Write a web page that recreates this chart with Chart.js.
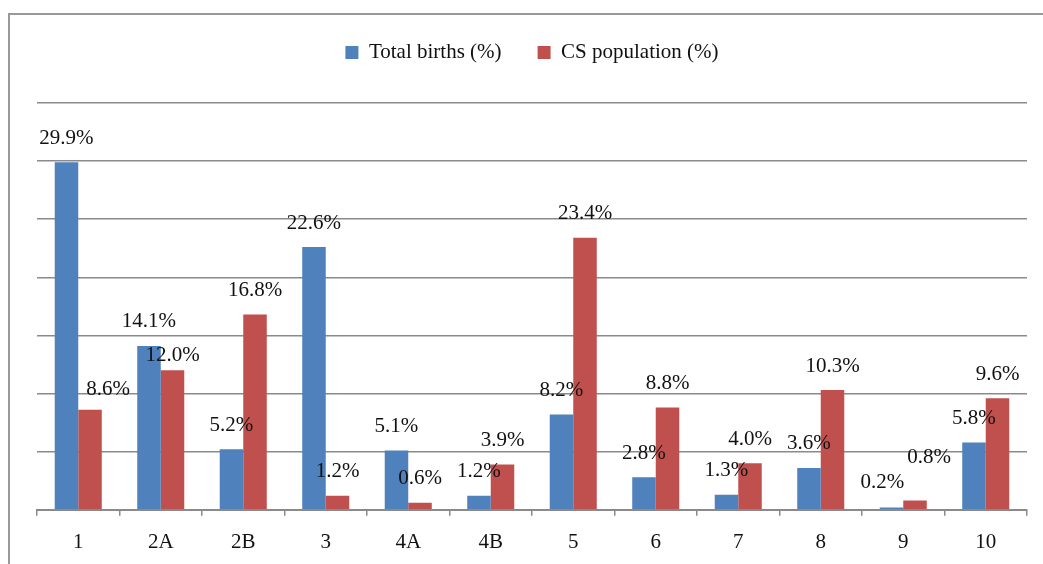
<!DOCTYPE html>
<html><head><meta charset="utf-8">
<script src="https://cdn.jsdelivr.net/npm/chart.js@4/dist/chart.umd.min.js"></script>
<style>html,body{margin:0;padding:0;background:#fff;} canvas{display:block}</style>
</head><body>
<canvas id="c" width="1043" height="564"></canvas>
<script>
const categories = ['1','2A','2B','3','4A','4B','5','6','7','8','9','10'];
const totalBirths = [29.9,14.1,5.2,22.6,5.1,1.2,8.2,2.8,1.3,3.6,0.2,5.8];
const csPopulation = [8.6,12.0,16.8,1.2,0.6,3.9,23.4,8.8,4.0,10.3,0.8,9.6];
const seriesNames = ['Total births (%)','CS population (%)'];
const yMax = 35, yStep = 5;

const FONT = "'Liberation Serif', 'Times New Roman', serif";
const GRID = '#8a8a8a';

// hand-moved labels in the original (dataset-index : [dx, dy])
const labelNudges = { '1-0': [18, 4], '1-1': [0, 9], '0-10': [-9, -1], '1-10': [14, -19] };

const frame = {
  id: 'frame',
  beforeDraw(chart) {
    const ctx = chart.ctx;
    ctx.save();
    ctx.fillStyle = '#fff';
    ctx.fillRect(0, 0, chart.width, chart.height);
    ctx.strokeStyle = '#999';
    ctx.lineWidth = 2;
    ctx.strokeRect(9, 14, 1200, 700);
    ctx.restore();
  }
};

const legendSpace = {
  id: 'legendSpace',
  beforeLayout(chart) {
    const lg = chart.legend;
    if (lg && !lg._patched) {
      const fit = lg.fit;
      lg.fit = function() { fit.call(this); this.height += 30; };
      lg._patched = true;
    }
  }
};

const valueLabels = {
  id: 'valueLabels',
  afterDatasetsDraw(chart) {
    const ctx = chart.ctx;
    ctx.save();
    ctx.font = "21px " + FONT;
    ctx.fillStyle = '#111';
    ctx.textAlign = 'center';
    ctx.textBaseline = 'middle';
    chart.data.datasets.forEach((ds, di) => {
      const meta = chart.getDatasetMeta(di);
      meta.data.forEach((bar, i) => {
        const n = labelNudges[di + '-' + i] || [0, 0];
        ctx.fillText(ds.data[i].toFixed(1) + '%', bar.x + n[0], bar.y - 24 + n[1]);
      });
    });
    ctx.restore();
  }
};

new Chart(document.getElementById('c'), {
  type: 'bar',
  data: {
    labels: categories,
    datasets: [
      { label: seriesNames[0], data: totalBirths, backgroundColor: '#4F81BD' },
      { label: seriesNames[1], data: csPopulation, backgroundColor: '#C0504D' }
    ]
  },
  options: {
    responsive: false,
    animation: false,
    devicePixelRatio: 1,
    layout: { padding: { left: 37, right: 16, top: 6, bottom: 0 } },
    datasets: { bar: { barPercentage: 1, categoryPercentage: 0.57 } },
    plugins: {
      legend: {
        position: 'top',
        labels: {
          font: { family: FONT, size: 21 },
          color: '#111',
          boxWidth: 13, boxHeight: 13,
          padding: 36
        }
      },
      tooltip: { enabled: false }
    },
    scales: {
      x: {
        offset: true,
        afterFit(scale) { scale.height -= 5; },
        grid: { offset: true, drawOnChartArea: false, drawTicks: true, tickLength: 6, color: GRID, lineWidth: 1.5 },
        border: { display: true, color: GRID, width: 2 },
        ticks: { font: { family: FONT, size: 21 }, color: '#111', padding: 14 }
      },
      y: {
        min: 0, max: yMax,
        ticks: { display: false, stepSize: yStep },
        grid: { color: GRID, lineWidth: 1.5, drawTicks: false },
        border: { display: false }
      }
    }
  },
  plugins: [frame, legendSpace, valueLabels]
});
</script>
</body></html>
